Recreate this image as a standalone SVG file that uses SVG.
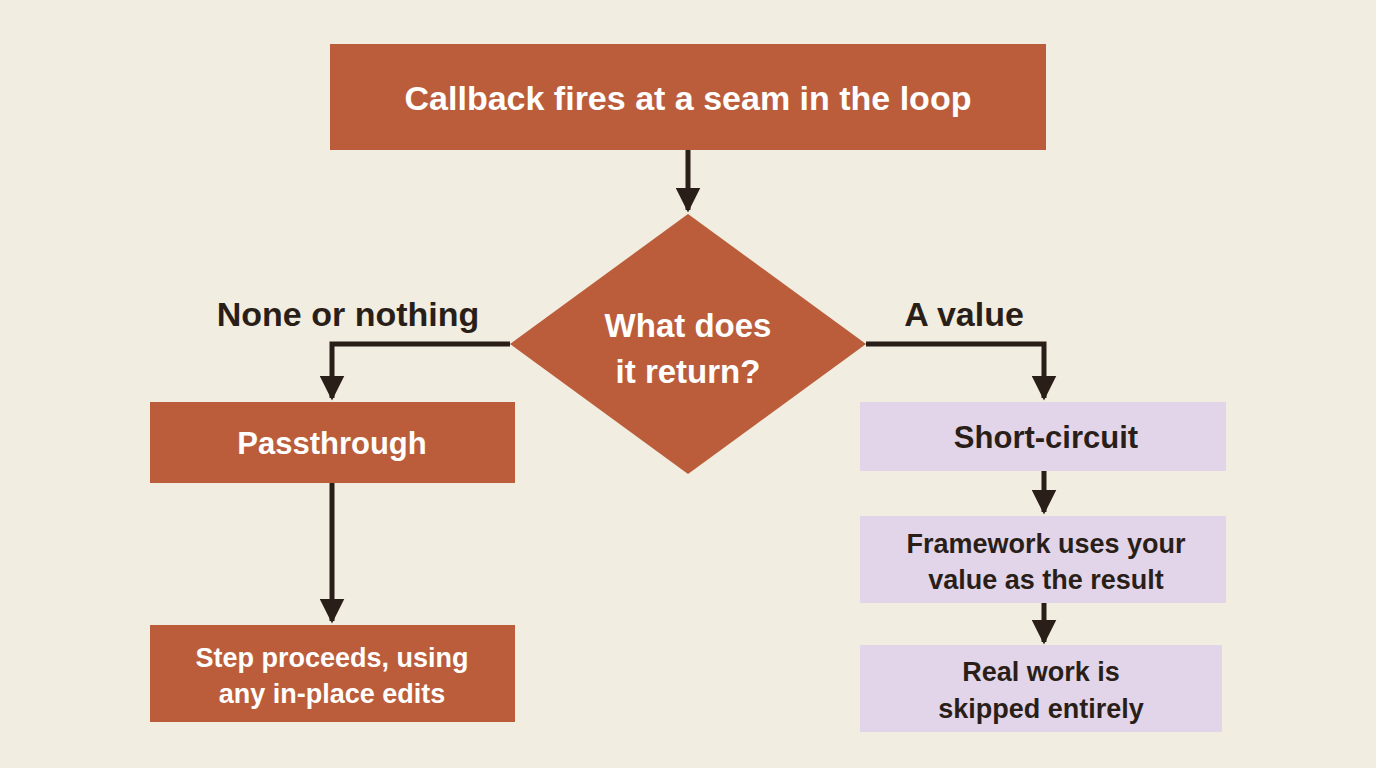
<svg xmlns="http://www.w3.org/2000/svg" width="1376" height="768" viewBox="0 0 1376 768">
<style>
.o{fill:#bb5d3b}.l{fill:#e2d5ea}
.t{font-family:"Liberation Sans",Arial,sans-serif;font-weight:bold;text-anchor:middle}
.w{fill:#fff}.d{fill:#2a1f18}
.c{stroke:#2a1f18;stroke-width:5;fill:none}
</style>
<defs><marker id="a" viewBox="0 0 10 10" refX="9" refY="5" markerWidth="5" markerHeight="5" markerUnits="strokeWidth" orient="auto"><path d="M0,0L10,5L0,10z" fill="#2a1f18"/></marker></defs>
<rect width="1376" height="768" fill="#f2ede1"/>
<g id="connectors">
<path class="c" d="M688,150V210" marker-end="url(#a)"/>
<path class="c" d="M510,344H332V398" marker-end="url(#a)"/>
<path class="c" d="M866,344H1044V398" marker-end="url(#a)"/>
<path class="c" d="M332,483V621" marker-end="url(#a)"/>
<path class="c" d="M1044,471V512" marker-end="url(#a)"/>
<path class="c" d="M1044,603V642" marker-end="url(#a)"/>
<text class="t d" x="348" y="326" font-size="34">None or nothing</text>
<text class="t d" x="964" y="326" font-size="34">A value</text>
</g>
<g id="start"><rect class="o" x="330" y="44" width="716" height="106"/><text class="t w" x="688" y="110" font-size="34">Callback fires at a seam in the loop</text></g>
<g id="decision"><path class="o" d="M688,214L866,344L688,474L510,344z"/><text class="t w" x="688" y="337" font-size="33">What does</text><text class="t w" x="688" y="383" font-size="33">it return?</text></g>
<g id="pass"><rect class="o" x="150" y="402" width="365" height="81"/><text class="t w" x="332" y="454" font-size="31">Passthrough</text></g>
<g id="step"><rect class="o" x="150" y="625" width="365" height="97"/><text class="t w" x="332" y="667" font-size="27">Step proceeds, using</text><text class="t w" x="332" y="703" font-size="27">any in-place edits</text></g>
<g id="short"><rect class="l" x="860" y="402" width="366" height="69"/><text class="t d" x="1046" y="448" font-size="31">Short-circuit</text></g>
<g id="framework"><rect class="l" x="860" y="516" width="366" height="87"/><text class="t d" x="1046" y="553" font-size="27">Framework uses your</text><text class="t d" x="1046" y="589" font-size="27">value as the result</text></g>
<g id="real"><rect class="l" x="860" y="645" width="362" height="87"/><text class="t d" x="1041" y="681" font-size="27">Real work is</text><text class="t d" x="1041" y="718" font-size="27">skipped entirely</text></g>
</svg>
